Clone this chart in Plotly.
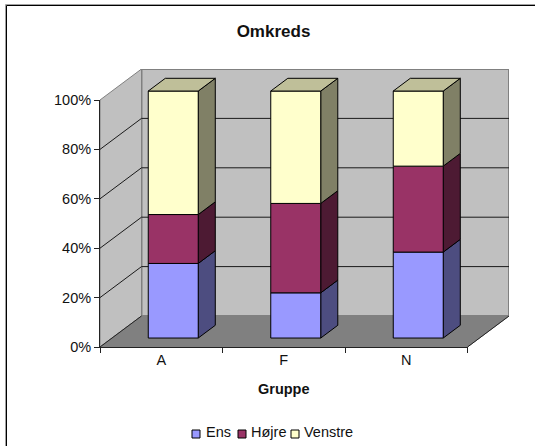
import plotly.graph_objects as go

# Share of each side per group, in percent
groups = ["A", "F", "N"]
series_names = ["Ens", "Højre", "Venstre"]
ens = [30.2, 18.3, 34.8]
hojre = [19.8, 36.2, 34.8]
venstre = [50.0, 45.5, 30.4]
series_values = [ens, hojre, venstre]

front_colors = ["#9999FF", "#993366", "#FFFFCC"]
side_colors = ["#4D4D80", "#4D1A33", "#808066"]
top_color = "#BFBF99"
y_ticks = [0, 20, 40, 60, 80, 100]

# Page geometry of the chart box, in pixels
W, H = 535, 446
LEFT, RIGHT, TOP, BOTTOM = 100, 509, 69, 347
FRONT_RIGHT, FRONT_TOP = 467.5, 100

# Oblique projection: full depth of the floor in axis units
DEPTH_X = (RIGHT - FRONT_RIGHT) / ((FRONT_RIGHT - LEFT) / 3)
DEPTH_Y = (FRONT_TOP - TOP) / ((BOTTOM - FRONT_TOP) / 100)
BAR_WIDTH = 0.408
BAR_D0, BAR_D1 = 0.289, 0.70


def px_x(x):
    return (x - LEFT) / (RIGHT - LEFT)


def px_y(y):
    return (BOTTOM - y) / (BOTTOM - TOP)


def project(x, y, d):
    return x + d * DEPTH_X, y + d * DEPTH_Y


def face(points, fill, line_color="black", width=1):
    xs = [p[0] for p in points] + [points[0][0]]
    ys = [p[1] for p in points] + [points[0][1]]
    return go.Scatter(
        x=xs, y=ys, mode="lines", fill="toself", fillcolor=fill,
        line=dict(color=line_color, width=width), hoverinfo="skip",
        showlegend=False, cliponaxis=False,
    )


def edge(points, color="black", width=1):
    return go.Scatter(
        x=[p[0] for p in points], y=[p[1] for p in points], mode="lines",
        line=dict(color=color, width=width), hoverinfo="skip",
        showlegend=False, cliponaxis=False,
    )


def page_line(x0, y0, x1, y1, color):
    return dict(type="line", xref="paper", yref="paper", layer="below",
                x0=px_x(x0), x1=px_x(x1), y0=px_y(y0), y1=px_y(y1),
                line=dict(color=color, width=1))


fig = go.Figure()
n = len(groups)

# Walls and floor
fig.add_trace(face([project(0, 0, 1), project(n, 0, 1), project(n, 100, 1), project(0, 100, 1)],
                   "#C0C0C0", "#808080", 2))
fig.add_trace(face([project(0, 0, 0), project(0, 0, 1), project(0, 100, 1), project(0, 100, 0)],
                   "#C0C0C0", "#808080", 1))
fig.add_trace(face([project(0, 0, 0), project(n, 0, 0), project(n, 0, 1), project(0, 0, 1)],
                   "#808080", "#808080", 1))
fig.add_trace(edge([project(n, 0, 0), project(n, 0, 1)], "#222222", 1))
fig.add_trace(edge([project(0, 0, 0), project(0, 0, 1)], "#222222", 1))

# Gridlines along the left wall and the back wall
for t in y_ticks[1:-1]:
    fig.add_trace(edge([project(0, t, 0), project(0, t, 1), project(n, t, 1)], "#1a1a1a", 1))

# Stacked columns, each with a front, a side and a top face
for i in range(n):
    x0 = i + 0.5 - BAR_WIDTH / 2
    x1 = i + 0.5 + BAR_WIDTH / 2
    base = 0
    for s, values in enumerate(series_values):
        top = base + values[i]
        fig.add_trace(face([project(x1, base, BAR_D0), project(x1, base, BAR_D1),
                            project(x1, top, BAR_D1), project(x1, top, BAR_D0)],
                           side_colors[s]))
        fig.add_trace(face([project(x0, base, BAR_D0), project(x1, base, BAR_D0),
                            project(x1, top, BAR_D0), project(x0, top, BAR_D0)],
                           front_colors[s]))
        base = top
    fig.add_trace(face([project(x0, base, BAR_D0), project(x1, base, BAR_D0),
                        project(x1, base, BAR_D1), project(x0, base, BAR_D1)],
                       top_color))

# Empty trace that brings up the front-plane axes carrying the ticks and labels
fig.add_trace(go.Scatter(x=groups, y=[None] * n, xaxis="x2", yaxis="y2",
                         mode="markers", showlegend=False, hoverinfo="skip"))

# Chart box: only its top and left edges are drawn, each with a grey outer line
shapes = [
    page_line(5.5, 4.5, W, 4.5, "#A0A0A0"),
    page_line(5.5, 4.5, 5.5, H, "#A0A0A0"),
    page_line(6.5, 5.5, W, 5.5, "black"),
    page_line(6.5, 5.5, 6.5, H, "black"),
]

# Legend row
legend_swatches = [192, 238, 291]
legend_labels = [206, 251, 304]
annotations = []
for swatch, label, name, color in zip(legend_swatches, legend_labels, series_names, front_colors):
    shapes.append(dict(type="rect", xref="paper", yref="paper",
                       x0=px_x(swatch), x1=px_x(swatch + 8), y0=px_y(438), y1=px_y(430),
                       line=dict(color="black", width=1), fillcolor=color))
    annotations.append(dict(text=name, xref="paper", yref="paper", x=px_x(label), y=px_y(432),
                            xanchor="left", yanchor="middle", showarrow=False,
                            font=dict(size=14.5, color="#111111"), xshift=-2))

fig.update_layout(
    width=W, height=H, autosize=False,
    margin=dict(l=LEFT, r=W - RIGHT, t=TOP, b=H - BOTTOM, pad=0),
    paper_bgcolor="white", plot_bgcolor="rgba(0,0,0,0)",
    font=dict(family="Liberation Sans, Arial, sans-serif", color="#111111"),
    showlegend=False,
    title=dict(text="<b>Omkreds</b>", x=273.5 / W, y=1 - 31 / H, xanchor="center",
               yanchor="middle", xref="container",
               font=dict(size=17, color="#111111")),
    xaxis=dict(range=[0, n + DEPTH_X], visible=False, domain=[0, 1], fixedrange=True),
    yaxis=dict(range=[0, 100 + DEPTH_Y], visible=False, domain=[0, 1], fixedrange=True),
    xaxis2=dict(
        type="category", categoryorder="array", categoryarray=groups, range=[-0.5, n - 0.5],
        domain=[0, px_x(FRONT_RIGHT)], anchor="y2", tickson="boundaries",
        ticks="outside", ticklen=5, tickwidth=1, tickcolor="#222222",
        showline=True, linecolor="#222222", linewidth=1, showgrid=False, zeroline=False,
        tickfont=dict(size=14.5), fixedrange=True,
        title=dict(text="<b>Gruppe</b>", font=dict(size=14.5), standoff=16),
    ),
    yaxis2=dict(
        range=[0, 100], domain=[0, px_y(FRONT_TOP)], anchor="x2",
        tickvals=y_ticks, ticktext=[f"{t}%" for t in y_ticks],
        ticks="outside", ticklen=5, tickwidth=1, tickcolor="#222222",
        showline=True, linecolor="#222222", linewidth=1, showgrid=False, zeroline=False,
        tickfont=dict(size=14.5), fixedrange=True,
    ),
    shapes=shapes, annotations=annotations,
)

fig.write_html("out.html")
